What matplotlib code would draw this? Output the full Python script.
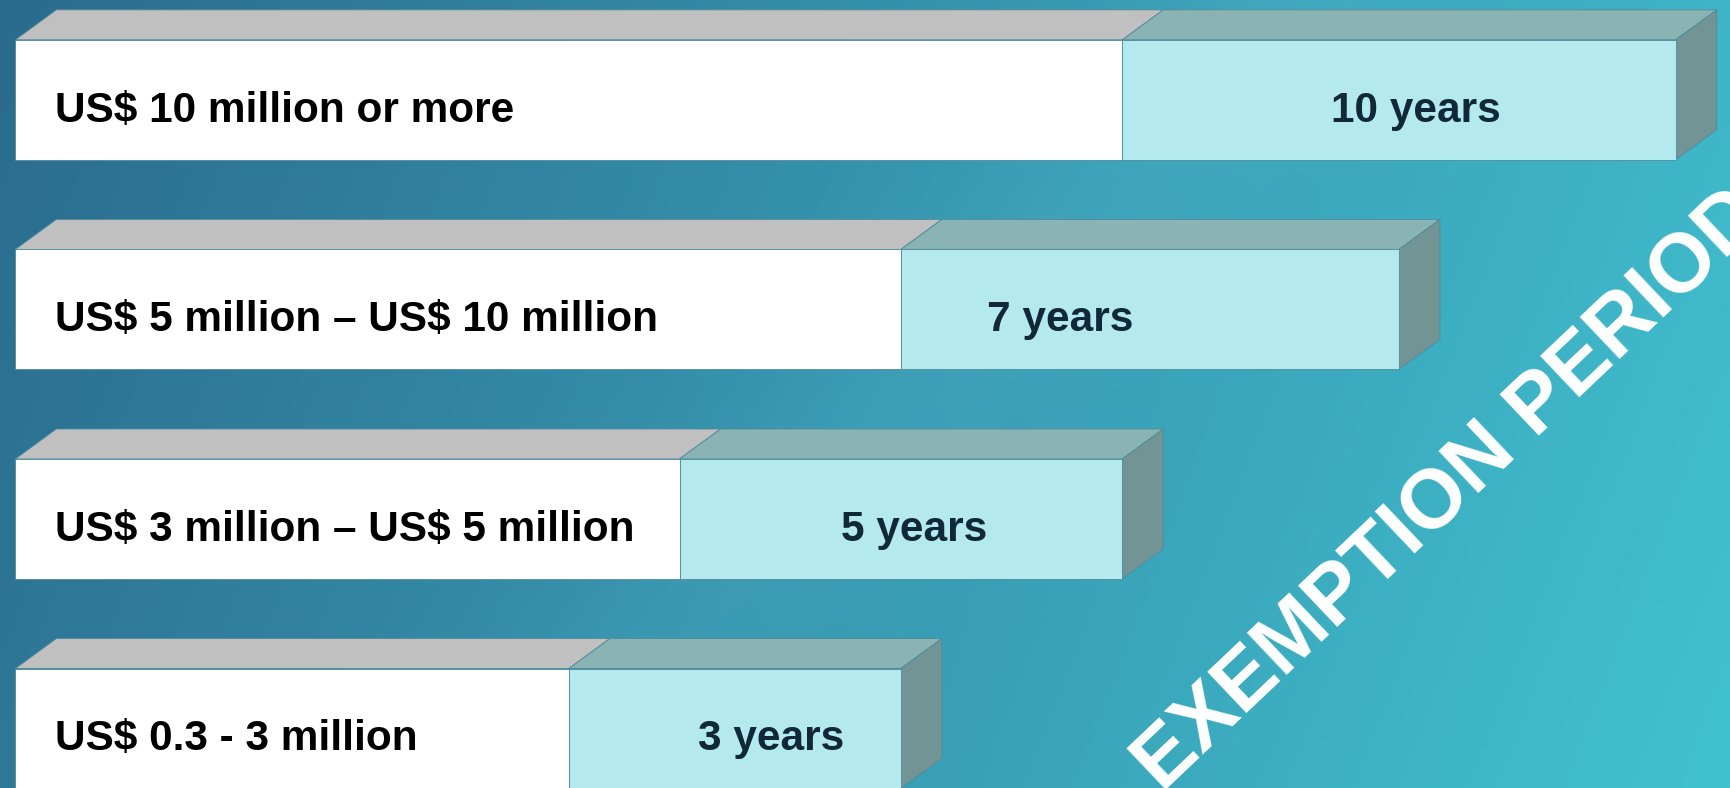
import matplotlib.pyplot as plt
import numpy as np
from matplotlib.patches import Polygon

# investment tiers and their exemption periods
labels = ["US$ 10 million or more",
          "US$ 5 million \u2013 US$ 10 million",
          "US$ 3 million \u2013 US$ 5 million",
          "US$ 0.3 - 3 million"]
years = ["10 years", "7 years", "5 years", "3 years"]
label_len = [10, 8, 6, 5]
years_len = [5, 4.5, 4, 3]

# where the year text sits inside the cyan part (fraction of it)
year_pos = [0.53, 0.32, 0.53, 0.61]

W, H = 1730, 788
fig = plt.figure(figsize=(W / 100, H / 100), dpi=100)
ax = fig.add_axes([0, 0, 1, 1])
ax.set_xlim(-0.139, 15.49)
ax.set_ylim(3.284, -0.476)
ax.axis("off")

# background gradient
nx, ny = 400, 200
gx, gy = np.meshgrid(np.linspace(0, 1, nx), np.linspace(0, 1, ny))
left = np.array([0x2b, 0x6b, 0x8d]) / 255
right = np.array([0x42, 0xc2, 0xd1]) / 255
t = np.clip(0.85 * gx + 0.15 * gy, 0, 1)[..., None]
bg = left * (1 - t) + right * t
# faint lighter diagonal band
band = np.exp(-((gx - 0.75 + 0.45 * gy) ** 2) / 0.01)[..., None]
bg = np.clip(bg + 0.025 * band, 0, 1)
ax.imshow(bg, extent=[-0.139, 15.49, 3.284, -0.476], aspect="auto", zorder=0)

h = 0.286   # half bar height in row units
dx = 0.37   # depth to the right
dy = 0.143  # depth upwards
edge = "#4f8a9b"

for i in range(len(labels)):
    L = label_len[i]
    C = years_len[i]
    top = i - h
    bot = i + h
    faces = [
        ([(0, top), (L, top), (L + dx, top - dy), (dx, top - dy)], "#c0c0c0"),
        ([(L, top), (L + C, top), (L + C + dx, top - dy), (L + dx, top - dy)], "#8ab3b4"),
        ([(L + C, top), (L + C + dx, top - dy), (L + C + dx, bot - dy), (L + C, bot)], "#729494"),
    ]
    for pts, col in faces:
        ax.add_patch(Polygon(pts, closed=True, facecolor=col, edgecolor=edge, lw=0.6, zorder=2))

ax.barh(range(len(labels)), label_len, height=2 * h, color="white",
        edgecolor=edge, linewidth=0.6, zorder=3)
ax.barh(range(len(labels)), years_len, left=label_len, height=2 * h, color="#b4eaee",
        edgecolor=edge, linewidth=0.6, zorder=3)

for i in range(len(labels)):
    ax.text(0.36, i + 0.105, labels[i], fontsize=30.5, fontweight="bold",
            family="Liberation Sans", color="black", ha="left", va="baseline",
            parse_math=False, zorder=4)
    ax.text(label_len[i] + year_pos[i] * years_len[i], i + 0.105, years[i], fontsize=30.5,
            fontweight="bold", family="Liberation Sans", color="#10283a",
            ha="center", va="baseline", zorder=4)

ax.text(0.838, 0.378, "EXEMPTION PERIOD", transform=ax.transAxes, fontsize=60,
        fontweight="bold", family="Liberation Sans", color="white", rotation=43.5,
        rotation_mode="anchor", ha="center", va="center", zorder=5)

fig.savefig("out.png", dpi=100)
